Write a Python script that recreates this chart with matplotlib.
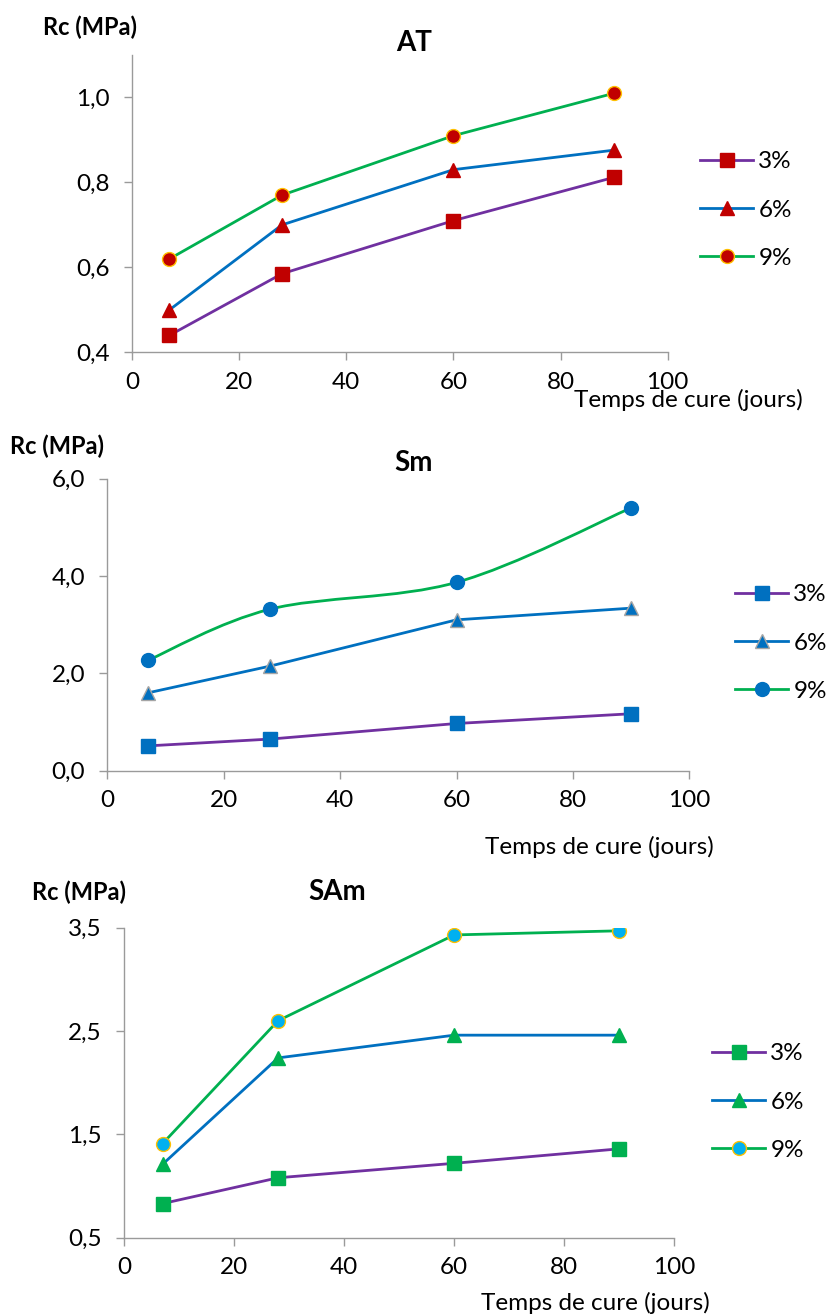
import numpy as np
import matplotlib
matplotlib.use("Agg")
import matplotlib.pyplot as plt
from matplotlib.lines import Line2D
from matplotlib.path import Path
from matplotlib.patches import PathPatch
from matplotlib.ticker import FuncFormatter, MultipleLocator

plt.rcParams['font.family'] = ['Lato', 'DejaVu Sans']

# --------------------------------------------------------------------
# Data
# --------------------------------------------------------------------
DAYS = [7, 28, 60, 90]
SERIES = ["3%", "6%", "9%"]

AT_3 = [0.44, 0.585, 0.71, 0.812]
AT_6 = [0.50, 0.70, 0.83, 0.876]
AT_9 = [0.62, 0.77, 0.91, 1.01]

SM_3 = [0.51, 0.65, 0.97, 1.17]
SM_6 = [1.60, 2.15, 3.10, 3.34]
SM_9 = [2.27, 3.32, 3.87, 5.40]

SAM_3 = [0.83, 1.08, 1.22, 1.36]
SAM_6 = [1.21, 2.24, 2.46, 2.46]
SAM_9 = [1.41, 2.60, 3.43, 3.47]

# --------------------------------------------------------------------
# Style
# --------------------------------------------------------------------
W, H = 830, 1315
LINE_COLORS = ["#7030A0", "#0070C0", "#00B050"]
MARKERS = ["s", "^", "o"]
AXIS_GREY = "#9A9A9A"
TICK_FS = 17.5
TEXT_FS = 17.5


def px(x, y):
    return x / W, 1 - y / H


def comma_fmt(v, _pos):
    return f"{v:.1f}".replace(".", ",")


def excel_smooth(xs, ys):
    """Bezier path like Excel's 'smoothed line'."""
    pts = np.column_stack([xs, ys]).astype(float)
    n = len(pts)
    verts = [pts[0]]
    codes = [Path.MOVETO]
    for i in range(n - 1):
        p0 = pts[max(i - 1, 0)]
        p1 = pts[i]
        p2 = pts[i + 1]
        p3 = pts[min(i + 2, n - 1)]
        verts += [p1 + (p2 - p0) / 6, p2 - (p3 - p1) / 6, p2]
        codes += [Path.CURVE4] * 3
    return Path(verts, codes)


def make_panel(fig, box, values, ylim, ystep, mk_face, mk_edge, smooth,
               title, title_xy, ylab_xy, xlab_xy, leg_xy):
    left, top, right, bottom = box
    ax = fig.add_axes([left / W, 1 - bottom / H, (right - left) / W, (bottom - top) / H])

    handles = []
    for i, ys in enumerate(values):
        lc = LINE_COLORS[i]
        style = dict(color=lc, lw=2.0, marker=MARKERS[i], ms=10,
                     mfc=mk_face[i], mec=mk_edge[i], mew=1.0)
        if smooth[i]:
            ax.add_patch(PathPatch(excel_smooth(DAYS, ys), fc="none", ec=lc, lw=2.0,
                                   zorder=2, capstyle="round"))
            ax.plot(DAYS, ys, ls="none", marker=MARKERS[i], ms=10,
                    mfc=mk_face[i], mec=mk_edge[i], mew=1.0, zorder=3)
        else:
            ax.plot(DAYS, ys, zorder=3, **style)
        handles.append(Line2D([], [], **style))

    ax.set_xlim(0, 100)
    ax.xaxis.set_major_locator(MultipleLocator(20))
    ax.set_yticks(np.arange(ylim[0], ylim[1] + 1e-9, ystep))
    ax.set_ylim(*ylim)
    ax.yaxis.set_major_formatter(FuncFormatter(comma_fmt))

    for s in ["top", "right"]:
        ax.spines[s].set_visible(False)
    for s in ["left", "bottom"]:
        ax.spines[s].set_color(AXIS_GREY)
        ax.spines[s].set_linewidth(1.0)
    ax.tick_params(axis="both", direction="out", length=6, width=1.0,
                   color=AXIS_GREY, labelsize=TICK_FS)
    ax.tick_params(axis="y", pad=10)
    ax.tick_params(axis="x", pad=8)
    ax.patch.set_alpha(0)

    fig.text(*px(*title_xy), title, fontsize=20, fontweight="bold",
             ha="center", va="center")
    fig.text(*px(*ylab_xy), "Rc (MPa)", fontsize=17, fontweight="bold",
             ha="left", va="center")
    fig.text(*px(*xlab_xy), "Temps de cure (jours)", fontsize=TEXT_FS,
             ha="left", va="center")

    fig.legend(handles, SERIES, loc="center left", bbox_to_anchor=px(*leg_xy),
               frameon=False, fontsize=TEXT_FS, handlelength=2.2, handletextpad=0.2,
               labelspacing=1.12, borderpad=0, borderaxespad=0)
    return ax


def main():
    fig = plt.figure(figsize=(W / 100, H / 100), dpi=100)

    red = "#C00000"
    gold = "#FFC000"
    blue = "#0070C0"
    green = "#00B050"
    cyan = "#00B0F0"

    make_panel(fig, (132, 55, 667.7, 352.3), [AT_3, AT_6, AT_9], (0.4, 1.1), 0.2,
               [red, red, red], [red, red, gold], [False, False, False],
               "AT", (414, 43), (43, 27), (574, 400), (700, 210))

    make_panel(fig, (107.3, 478.7, 689.3, 770.7), [SM_3, SM_6, SM_9], (0.0, 6.0), 2.0,
               [blue, blue, blue], [blue, "#A5A5A5", blue], [False, False, True],
               "Sm", (413, 463), (10, 446), (485, 847), (735, 643))

    make_panel(fig, (124, 927.7, 674.3, 1237.7), [SAM_3, SAM_6, SAM_9], (0.5, 3.5), 1.0,
               [green, green, cyan], [green, green, gold], [False, False, False],
               "SAm", (337, 892), (32, 892), (481, 1303), (712, 1102))

    fig.savefig("out.png", dpi=100)
    plt.close(fig)


if __name__ == "__main__":
    main()
